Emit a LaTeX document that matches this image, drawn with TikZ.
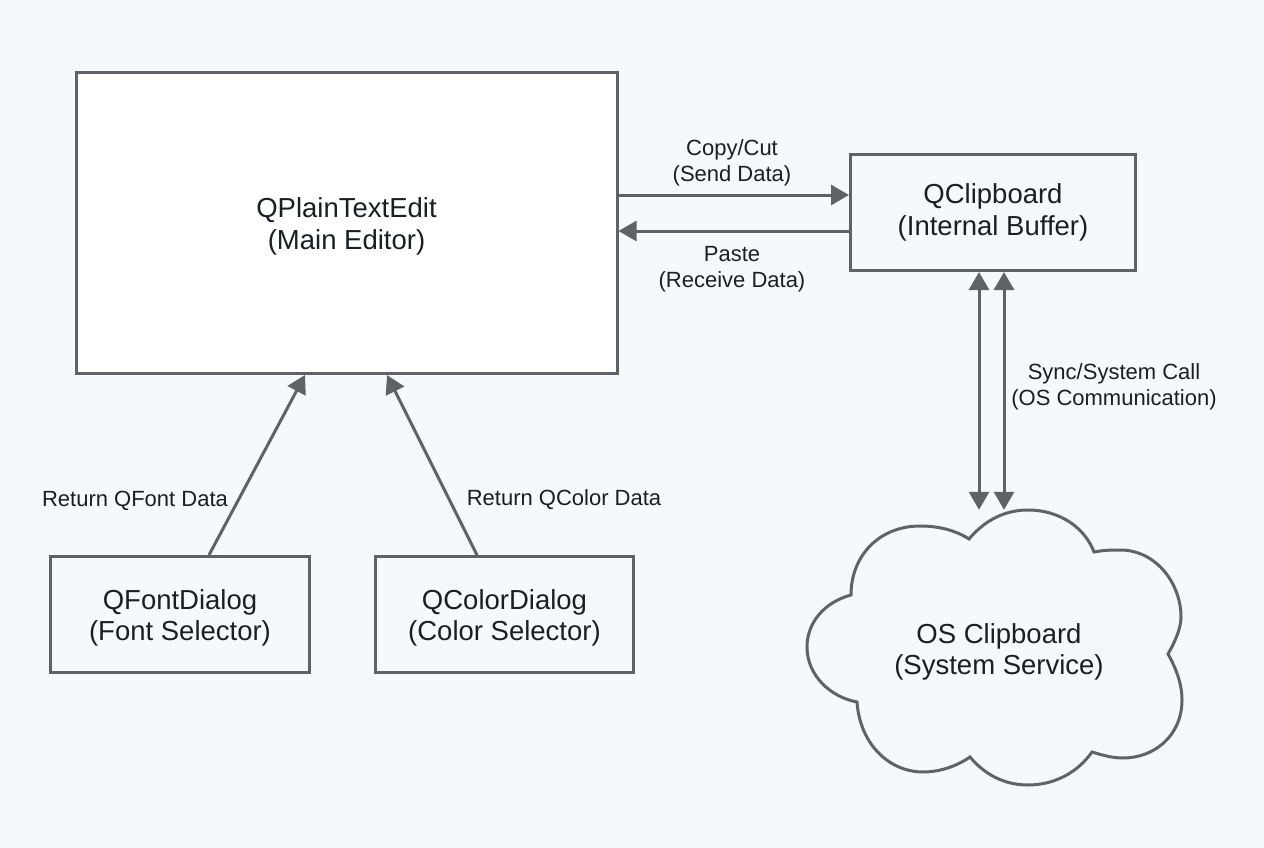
\documentclass[tikz,border=0pt]{standalone}
\usepackage{fontspec}
\setmainfont{Liberation Sans}
\usetikzlibrary{arrows.meta}
\definecolor{bgc}{HTML}{F5F9FB}
\definecolor{linec}{HTML}{5F6368}
\definecolor{textc}{HTML}{1B1F23}
\tikzset{
  box/.style={draw=linec,line width=3pt,fill=#1,inner sep=0pt},
  box/.default=bgc,
  boxtext/.style={inner sep=0pt,align=center,text=textc,font=\fontsize{27.5}{31.5}\selectfont},
  lab/.style={inner sep=0pt,align=center,text=textc,font=\fontsize{22}{25.5}\selectfont},
  conn/.style={draw=linec,line width=3pt,-{Triangle[length=18pt,width=20pt]}},
  bothconn/.style={draw=linec,line width=3pt,{Triangle[length=18pt,width=20pt]}-{Triangle[length=18pt,width=20pt]}},
  cloudline/.style={draw=linec,line width=3pt,line join=miter}
}
\begin{document}
\begin{tikzpicture}[x=1pt,y=-1pt]
\path[use as bounding box,fill=bgc] (0,0) rectangle (1264,848);
\node[box=white,minimum width=541pt,minimum height=301pt,label={[boxtext,yshift=-3.5pt]center:{QPlainTextEdit\\(Main Editor)}}] (editor) at (346.5,223) {};
\node[box,minimum width=285pt,minimum height=116pt,label={[boxtext]center:{QClipboard\\(Internal Buffer)}}] (clip) at (993,212.5) {};
\node[box,minimum width=259pt,minimum height=116pt,label={[boxtext,yshift=-3.5pt]center:{QFontDialog\\(Font Selector)}}] (font) at (180,614.5) {};
\node[box,minimum width=258pt,minimum height=116pt,label={[boxtext,yshift=-3.5pt]center:{QColorDialog\\(Color Selector)}}] (color) at (504.5,614.5) {};
\draw[cloudline] (969,539) .. controls (985,520) and (1005,510) .. (1028,510)
 .. controls (1060,510) and (1085,528) .. (1094,552)
 .. controls (1104,550) and (1113,550) .. (1123,550)
 .. controls (1158,552) and (1181,585) .. (1181,617)
 .. controls (1181,628) and (1175,642) .. (1168,654)
 .. controls (1176,668) and (1182,684) .. (1182,700)
 .. controls (1182,735) and (1155,758) .. (1123,758)
 .. controls (1112,758) and (1102,755) .. (1092,752)
 .. controls (1078,772) and (1055,785) .. (1028,785)
 .. controls (1005,785) and (985,775) .. (970,757)
 .. controls (957,766) and (940,772) .. (923,772)
 .. controls (890,772) and (860,745) .. (857,702)
 .. controls (830,697) and (807,675) .. (807,647)
 .. controls (807,622) and (825,602) .. (851,595)
 .. controls (851,555) and (880,526) .. (920,526)
 .. controls (938,526) and (955,530) .. (969,539) -- cycle;
\node[boxtext,minimum width=375pt,minimum height=284pt] (cloud) at (999,652) {OS Clipboard\\(System Service)};
\draw[conn] ([yshift=28pt]editor.east) -- ([yshift=17.5pt]clip.west);
\draw[conn] ([yshift=-18.5pt]clip.west) -- ([yshift=-8pt]editor.east);
\draw[conn] ([xshift=29pt]font.north) -- ([xshift=-41.5pt]editor.south);
\draw[conn] ([xshift=-27.5pt]color.north) -- ([xshift=40.5pt]editor.south);
\draw[bothconn] ([xshift=-14pt]clip.south) -- ([xshift=-20pt]cloud.north);
\draw[bothconn] ([xshift=11pt]clip.south) -- ([xshift=5pt]cloud.north);
\node[lab] (l1) at (732,163) {Copy/Cut\\(Send Data)};
\node[lab] (l2) at (732,269) {Paste\\(Receive Data)};
\node[lab] (l3) at (1114,387) {Sync/System Call\\(OS Communication)};
\node[lab] (l4) at (135,500.5) {Return QFont Data};
\node[lab] (l5) at (564,500) {Return QColor Data};
\end{tikzpicture}
\end{document}
